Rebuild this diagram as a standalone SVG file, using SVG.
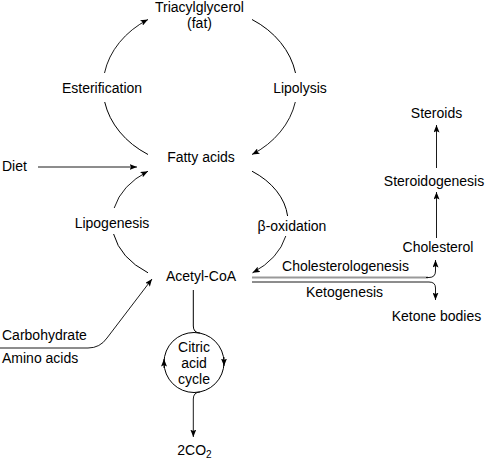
<svg xmlns="http://www.w3.org/2000/svg" width="488" height="459" viewBox="0 0 488 459">
<style>
text{font-family:"Liberation Sans",Arial,Helvetica,sans-serif;font-size:14px;fill:#000}
.c{text-anchor:middle}
.ln{fill:none;stroke:#000;stroke-width:1}
.ar{fill:none;stroke:#000;stroke-width:0.9;marker-end:url(#ah)}
</style>
<defs>
<marker id="ah" markerUnits="userSpaceOnUse" markerWidth="8" markerHeight="6" refX="7.5" refY="3" orient="auto">
<path d="M0,0 L7.5,3 L0,6 L1.6,3 z" fill="#000"/>
</marker>
</defs>
<rect width="488" height="459" fill="#fff"/>
<g id="connectors">
<path class="ln" d="M148,154.5 A97,80 0 0 1 104.7,102"/>
<path class="ar" d="M104.5,73 A97,80 0 0 1 148,19.5"/>
<path class="ln" d="M252,19.5 A97,80 0 0 1 295.5,73"/>
<path class="ar" d="M295.3,102 A97,80 0 0 1 252,154.5"/>
<path class="ln" d="M148,272.8 A88,63 0 0 1 113.6,234"/>
<path class="ar" d="M114.2,208 A88,63 0 0 1 148,171.2"/>
<path class="ln" d="M252,171.2 A88,63 0 0 1 287.6,216"/>
<path class="ar" d="M285.8,236 A88,63 0 0 1 252.5,272.8"/>
<path class="ar" d="M38,167 L137,167"/>
<path class="ar" d="M0,348 L88,348 Q100,348 107,338 L152,279"/>
<path class="ar" d="M436.5,238 L436.5,192"/>
<path class="ar" d="M436.5,168 L436.5,125"/>
<path d="M252,277.5 L428,277.5" fill="none" stroke="#999" stroke-width="1.8"/>
<path class="ar" d="M426,277.5 L429,277.5 Q435.5,277.5 435.5,271 L435.5,260"/>
<path class="ar" d="M252,282 L429,282 Q435.5,282 435.5,288 L435.5,300"/>
<path class="ln" d="M193.3,290 L193.3,326 Q193.3,332.6 200,333.1"/>
<path class="ar" d="M200,391.9 Q193.3,392.4 193.3,399 L193.3,437"/>
</g>
<g id="citric-acid-cycle">
<circle cx="194" cy="362.5" r="30" class="ln"/>
<path class="ar" d="M164,368 L164,359"/>
<path class="ar" d="M224,357 L224,366"/>
<text class="c" x="194" y="352">Citric</text>
<text class="c" x="194" y="368">acid</text>
<text class="c" x="194" y="384">cycle</text>
</g>
<g id="triacylglycerol"><text class="c" x="199.5" y="11.5">Triacylglycerol</text><text class="c" x="199.5" y="27.5">(fat)</text></g>
<g id="esterification"><text class="c" x="102" y="93">Esterification</text></g>
<g id="lipolysis"><text class="c" x="300" y="93">Lipolysis</text></g>
<g id="steroids"><text class="c" x="436.5" y="118">Steroids</text></g>
<g id="fatty-acids"><text class="c" x="201" y="162">Fatty acids</text></g>
<g id="diet"><text x="2" y="171">Diet</text></g>
<g id="steroidogenesis"><text class="c" x="434" y="186">Steroidogenesis</text></g>
<g id="lipogenesis"><text class="c" x="112" y="228">Lipogenesis</text></g>
<g id="beta-oxidation"><text class="c" x="292" y="231">β-oxidation</text></g>
<g id="cholesterol"><text class="c" x="438" y="252">Cholesterol</text></g>
<g id="acetyl-coa"><text class="c" x="201" y="281">Acetyl-CoA</text></g>
<g id="cholesterologenesis"><text class="c" x="345.5" y="271">Cholesterologenesis</text></g>
<g id="ketogenesis"><text class="c" x="344.5" y="297">Ketogenesis</text></g>
<g id="ketone-bodies"><text class="c" x="436.5" y="321">Ketone bodies</text></g>
<g id="carbohydrate"><text x="2" y="340">Carbohydrate</text></g>
<g id="amino-acids"><text x="2" y="363">Amino acids</text></g>
<g id="co2"><text class="c" x="194.5" y="455">2CO<tspan font-size="10" dy="3">2</tspan></text></g>
</svg>
